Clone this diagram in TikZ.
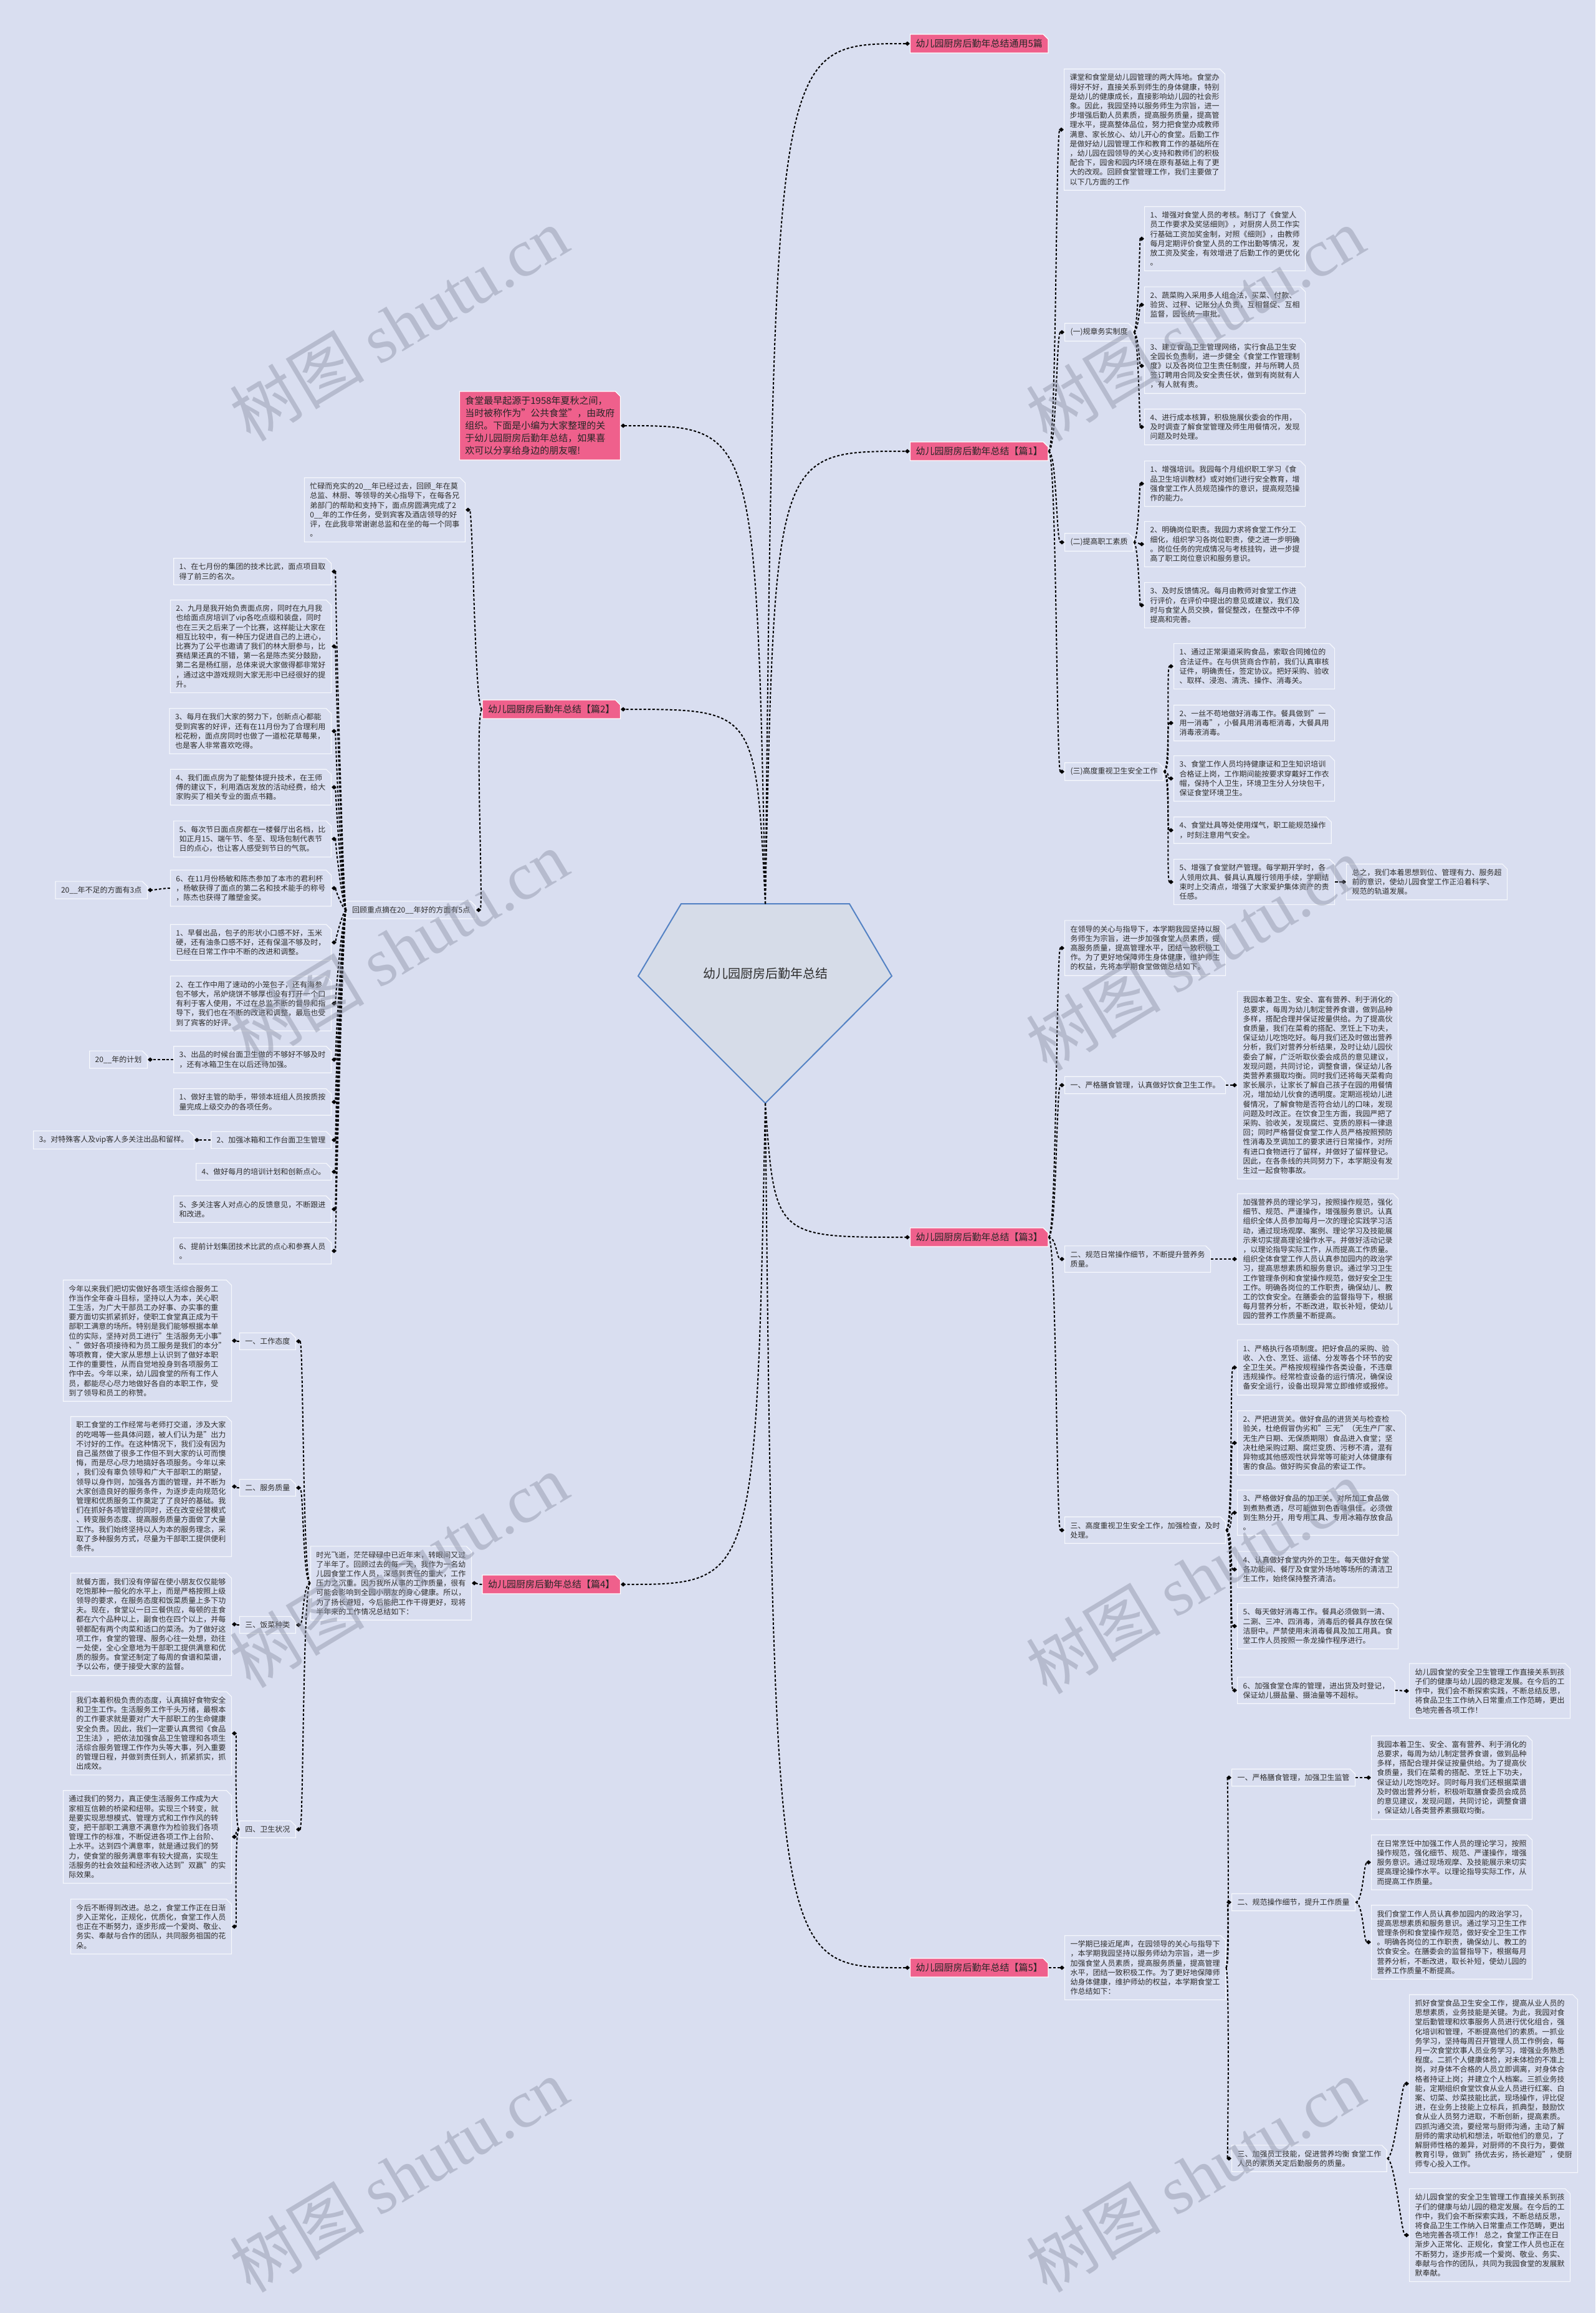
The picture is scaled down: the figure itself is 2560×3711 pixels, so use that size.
\documentclass[tikz,border=0pt]{standalone}
\usepackage{fontspec}
\setmainfont{Noto Sans CJK SC}
\newfontfamily\wmlat{Liberation Serif}
\usetikzlibrary{shapes.misc,arrows.meta}
\definecolor{bg}{RGB}{217,222,240}
\definecolor{boxline}{RGB}{246,248,253}
\definecolor{pinkc}{RGB}{239,96,140}
\definecolor{txt}{RGB}{45,45,45}
\definecolor{cfill}{RGB}{214,220,232}
\definecolor{cline}{RGB}{84,130,196}
\definecolor{wmc}{RGB}{140,146,165}
\tikzset{
 box/.style={chamfered rectangle, chamfered rectangle corners=north east, chamfered rectangle xsep=4pt, chamfered rectangle ysep=4pt, draw=boxline, line width=1.2pt, fill=bg, text=txt, font=\fontsize{12}{15.2}\selectfont, align=left, inner xsep=5pt, inner ysep=4pt},
 pbox/.style={box, fill=pinkc, draw=white, text=black!85, font=\fontsize{15}{20}\selectfont},
 link/.style={line width=2pt, dash pattern=on 4pt off 3pt, -{Diamond[length=8pt,width=7pt]}},
 wm/.style={rotate=31, text=wmc, opacity=0.45, font=\fontsize{108}{108}\selectfont},
}
\newcommand\lkR[3]{\draw[link] (#1.east) .. controls +(#3,0) and +(-#3,0) .. (#2.west);}
\newcommand\lkL[3]{\draw[link] (#1.west) .. controls +(-#3,0) and +(#3,0) .. (#2.east);}
\begin{document}
\begin{tikzpicture}[x=1pt,y=-1pt]
\fill[bg] (0,0) rectangle (2560,3711);
\useasboundingbox (0,0) rectangle (2560,3711);

% centre
\draw[fill=cfill, draw=cline, line width=2pt] (1093,1450) -- (1363,1450) -- (1431,1566) -- (1228,1770) -- (1024,1566) -- cycle;
\node[text=txt, font=\fontsize{20}{24}\selectfont] (c) at (1228,1562) {幼儿园厨房后勤年总结};
\coordinate (ctop) at (1228,1450);
\coordinate (cbot) at (1228,1770);

% branch labels
\node[pbox, anchor=west] (B0) at (1460,70) {幼儿园厨房后勤年总结通用5篇};
\node[pbox, anchor=west] (B1) at (1460,724) {幼儿园厨房后勤年总结【篇1】};
\node[pbox, anchor=east] (P) at (996,683) {食堂最早起源于1958年夏秋之间，\\当时被称作为"公共食堂"，由政府\\组织。下面是小编为大家整理的关\\于幼儿园厨房后勤年总结，如果喜\\欢可以分享给身边的朋友喔!};
\node[pbox, anchor=east] (B2) at (996,1138) {幼儿园厨房后勤年总结【篇2】};
\node[pbox, anchor=west] (B3) at (1460,1985) {幼儿园厨房后勤年总结【篇3】};
\node[pbox, anchor=east] (B4) at (996,2542) {幼儿园厨房后勤年总结【篇4】};
\node[pbox, anchor=west] (B5) at (1460,3157) {幼儿园厨房后勤年总结【篇5】};

% ---------- 篇1 ----------
\node[box, anchor=west] (a1) at (1707,208) {课堂和食堂是幼儿园管理的两大阵地。食堂办\\得好不好，直接关系到师生的身体健康，特别\\是幼儿的健康成长，直接影响幼儿园的社会形\\象。因此，我园坚持以服务师生为宗旨，进一\\步增强后勤人员素质，提高服务质量，提高管\\理水平，提高整体品位，努力把食堂办成教师\\满意、家长放心、幼儿开心的食堂。后勤工作\\是做好幼儿园管理工作和教育工作的基础所在\\，幼儿园在园领导的关心支持和教师们的积极\\配合下，园舍和园内环境在原有基础上有了更\\大的改观。回顾食堂管理工作，我们主要做了\\以下几方面的工作};
\node[box, anchor=west] (a2) at (1708,533) {(一)规章务实制度};
\node[box, anchor=west] (a3) at (1708,870) {(二)提高职工素质};
\node[box, anchor=west] (a4) at (1708,1238) {(三)高度重视卫生安全工作};

\node[box, anchor=west] (b11) at (1836,383) {1、增强对食堂人员的考核。制订了《食堂人\\员工作要求及奖惩细则》，对厨房人员工作实\\行基础工资加奖金制，对照《细则》，由教师\\每月定期评价食堂人员的工作出勤等情况，发\\放工资及奖金，有效增进了后勤工作的更优化\\。};
\node[box, anchor=west] (b12) at (1836,489) {2、蔬菜购入采用多人组合法，买菜、付款、\\验货、过秤、记账分人负责，互相督促、互相\\监督，园长统一审批。};
\node[box, anchor=west] (b13) at (1836,587) {3、建立食品卫生管理网络，实行食品卫生安\\全园长负责制，进一步健全《食堂工作管理制\\度》以及各岗位卫生责任制度，并与所聘人员\\签订聘用合同及安全责任状，做到有岗就有人\\，有人就有责。};
\node[box, anchor=west] (b14) at (1836,685) {4、进行成本核算，积极施展伙委会的作用，\\及时调查了解食堂管理及师生用餐情况，发现\\问题及时处理。};

\node[box, anchor=west] (b21) at (1836,776) {1、增强培训。我园每个月组织职工学习《食\\品卫生培训教材》或对她们进行安全教育，增\\强食堂工作人员规范操作的意识，提高规范操\\作的能力。};
\node[box, anchor=west] (b22) at (1836,873) {2、明确岗位职责。我园力求将食堂工作分工\\细化，组织学习各岗位职责，使之进一步明确\\。岗位任务的完成情况与考核挂钩，进一步提\\高了职工岗位意识和服务意识。};
\node[box, anchor=west] (b23) at (1836,971) {3、及时反馈情况。每月由教师对食堂工作进\\行评价，在评价中提出的意见或建议，我们及\\时与食堂人员交换，督促整改，在整改中不停\\提高和完善。};

\node[box, anchor=west] (b31) at (1883,1069) {1、通过正常渠道采购食品，索取合同摊位的\\合法证件。在与供货商合作前，我们认真审核\\证件，明确责任，签定协议。把好采购、验收\\、取样、浸泡、清洗、操作、消毒关。};
\node[box, anchor=west] (b32) at (1883,1160) {2、一丝不苟地做好消毒工作。餐具做到"一\\用一消毒"，小餐具用消毒柜消毒，大餐具用\\消毒液消毒。};
\node[box, anchor=west] (b33) at (1883,1249) {3、食堂工作人员均持健康证和卫生知识培训\\合格证上岗，工作期间能按要求穿戴好工作衣\\帽，保持个人卫生，环境卫生分人分块包干，\\保证食堂环境卫生。};
\node[box, anchor=west] (b34) at (1883,1332) {4、食堂灶具等处使用煤气，职工能规范操作\\，时刻注意用气安全。};
\node[box, anchor=west] (b35) at (1883,1415) {5、增强了食堂财产管理。每学期开学时，各\\人领用炊具、餐具认真履行领用手续，学期结\\束时上交清点，增强了大家爱护集体资产的责\\任感。};
\node[box, anchor=west] (z1) at (2160,1415) {总之，我们本着思想到位、管理有力、服务超\\前的意识，使幼儿园食堂工作正沿着科学、\\规范的轨道发展。};

% ---------- 篇2 ----------
\node[box, anchor=east] (i2) at (747,818) {忙碌而充实的20\_\_年已经过去，回顾\_年在莫\\总监、林厨、等领导的关心指导下，在每各兄\\弟部门的帮助和支持下，面点房圆满完成了2\\0\_\_年的工作任务，受到宾客及酒店领导的好\\评，在此我非常谢谢总监和在坐的每一个同事\\。};
\node[box, anchor=east] (rr) at (764,1460) {回顾重点摘在20\_\_年好的方面有5点};

\node[box, anchor=east] (r1) at (532,917) {1、在七月份的集团的技术比武，面点项目取\\得了前三的名次。};
\node[box, anchor=east] (r2) at (532,1037) {2、九月是我开始负责面点房，同时在九月我\\也给面点房培训了vip各吃点缀和装盘，同时\\也在三天之后来了一个比赛，这样能让大家在\\相互比较中，有一种压力促进自己的上进心，\\比赛为了公平也邀请了我们的林大厨参与，比\\赛结果还真的不错，第一名是陈杰奖分鼓励，\\第二名是杨红丽，总体来说大家做得都非常好\\，通过这中游戏规则大家无形中已经很好的提\\升。};
\node[box, anchor=east] (r3) at (532,1173) {3、每月在我们大家的努力下，创新点心都能\\受到宾客的好评，还有在11月份为了合理利用\\松花粉，面点房同时也做了一道松花草莓果，\\也是客人非常喜欢吃得。};
\node[box, anchor=east] (r4) at (532,1263) {4、我们面点房为了能整体提升技术，在王师\\傅的建议下，利用酒店发放的活动经费，给大\\家购买了相关专业的面点书籍。};
\node[box, anchor=east] (r5) at (532,1346) {5、每次节日面点房都在一楼餐厅出名档，比\\如正月15、端午节、冬至、现场包制代表节\\日的点心，也让客人感受到节日的气氛。};
\node[box, anchor=east] (r6) at (532,1425) {6、在11月份杨敏和陈杰参加了本市的君利杯\\，杨敏获得了面点的第二名和技术能手的称号\\，陈杰也获得了雕塑金奖。};
\node[box, anchor=east] (d1) at (237,1428) {20\_\_年不足的方面有3点};
\node[box, anchor=east] (r7) at (532,1512) {1、早餐出品，包子的形状小口感不好，玉米\\硬，还有油条口感不好，还有保温不够及时，\\已经在日常工作中不断的改进和调整。};
\node[box, anchor=east] (r8) at (532,1610) {2、在工作中用了速动的小笼包子，还有海参\\包不够大，吊炉烧饼不够厚也没有打开一个口\\有利于客人使用，不过在总监不断的督导和指\\导下，我们也在不断的改进和调整，最后也受\\到了宾客的好评。};
\node[box, anchor=east] (r9) at (532,1700) {3、出品的时候台面卫生做的不够好不够及时\\，还有冰箱卫生在以后还待加强。};
\node[box, anchor=east] (pl) at (237,1700) {20\_\_年的计划};
\node[box, anchor=east] (r10) at (532,1768) {1、做好主管的助手，带领本班组人员按质按\\量完成上级交办的各项任务。};
\node[box, anchor=east] (r11) at (532,1829) {2、加强冰箱和工作台面卫生管理};
\node[box, anchor=east] (xx) at (312,1829) {3。对特殊客人及vip客人多关注出品和留样。};
\node[box, anchor=east] (r12) at (532,1880) {4、做好每月的培训计划和创新点心。};
\node[box, anchor=east] (r13) at (532,1940) {5、多关注客人对点心的反馈意见，不断跟进\\和改进。};
\node[box, anchor=east] (r14) at (532,2007) {6、提前计划集团技术比武的点心和参赛人员\\。};

% ---------- 篇3 ----------
\node[box, anchor=west] (i3) at (1708,1521) {在领导的关心与指导下，本学期我园坚持以服\\务师生为宗旨，进一步加强食堂人员素质，提\\高服务质量，提高管理水平，团结一致积极工\\作。为了更好地保障师生身体健康，维护师生\\的权益，先将本学期食堂做做总结如下。};
\node[box, anchor=west] (m1) at (1708,1741) {一、严格膳食管理，认真做好饮食卫生工作。};
\node[box, anchor=west] (m1t) at (1985,1741) {我园本着卫生、安全、富有营养、利于消化的\\总要求，每周为幼儿制定营养食谱，做到品种\\多样，搭配合理并保证按量供给。为了提高伙\\食质量，我们在菜肴的搭配、烹饪上下功夫，\\保证幼儿吃饱吃好。每月我们还及时做出营养\\分析，我们对营养分析结果，及时让幼儿园伙\\委会了解，广泛听取伙委会成员的意见建议，\\发现问题，共同讨论，调整食谱，保证幼儿各\\类营养素摄取均衡。同时我们还将每天菜肴向\\家长展示，让家长了解自己孩子在园的用餐情\\况，增加幼儿伙食的透明度。定期巡视幼儿进\\餐情况，了解食物是否符合幼儿的口味，发现\\问题及时改正。在饮食卫生方面，我园严把了\\采购、验收关，发现腐烂、变质的原料一律退\\回；同时严格督促食堂工作人员严格按照预防\\性消毒及烹调加工的要求进行日常操作，对所\\有进口食物进行了留样，并做好了留样登记。\\因此，在各条线的共同努力下，本学期没有发\\生过一起食物事故。};
\node[box, anchor=west] (m2) at (1708,2020) {二、规范日常操作细节，不断提升营养务\\质量。};
\node[box, anchor=west] (m2t) at (1985,2020) {加强营养员的理论学习，按照操作规范，强化\\细节、规范、严谨操作，增强服务意识。认真\\组织全体人员参加每月一次的理论实践学习活\\动，通过现场观摩、案例、理论学习及技能展\\示来切实提高理论操作水平。并做好活动记录\\，以理论指导实际工作，从而提高工作质量。\\组织全体食堂工作人员认真参加园内的政治学\\习，提高思想素质和服务意识。通过学习卫生\\工作管理条例和食堂操作规范，做好安全卫生\\工作。明确各岗位的工作职责，确保幼儿、教\\工的饮食安全。在膳委会的监督指导下，根据\\每月营养分析，不断改进，取长补短，使幼儿\\园的营养工作质量不断提高。};
\node[box, anchor=west] (m3) at (1708,2455) {三、高度重视卫生安全工作，加强检查，及时\\处理。};
\node[box, anchor=west] (n1) at (1985,2194) {1、严格执行各项制度。把好食品的采购、验\\收、入仓、烹饪、运储、分发等各个环节的安\\全卫生关。严格按规程操作各类设备，不违章\\违规操作。经常检查设备的运行情况，确保设\\备安全运行，设备出现异常立即维修或报修。};
\node[box, anchor=west] (n2) at (1985,2315) {2、严把进货关。做好食品的进货关与检查检\\验关，杜绝假冒伪劣和"三无"（无生产厂家、\\无生产日期、无保质期限）食品进入食堂；坚\\决杜绝采购过期、腐烂变质、污秽不清，混有\\异物或其他感观性状异常等可能对人体健康有\\害的食品。做好购买食品的索证工作。};
\node[box, anchor=west] (n3) at (1985,2427) {3、严格做好食品的加工关。对所加工食品做\\到煮熟煮透，尽可能做到色香味俱佳。必须做\\到生熟分开，用专用工具、专用冰箱存放食品\\。};
\node[box, anchor=west] (n4) at (1985,2518) {4、认真做好食堂内外的卫生。每天做好食堂\\各功能间、餐厅及食堂外场地等场所的清洁卫\\生工作，始终保持整齐清洁。};
\node[box, anchor=west] (n5) at (1985,2609) {5、每天做好消毒工作。餐具必须做到一清、\\二涮、三冲、四消毒，消毒后的餐具存放在保\\洁厨中。严禁使用未消毒餐具及加工用具。食\\堂工作人员按照一条龙操作程序进行。};
\node[box, anchor=west] (n6) at (1985,2712) {6、加强食堂仓库的管理，进出货及时登记，\\保证幼儿摄盐量、摄油量等不超标。};
\node[box, anchor=west] (n7) at (2261,2713) {幼儿园食堂的安全卫生管理工作直接关系到孩\\子们的健康与幼儿园的稳定发展。在今后的工\\作中，我们会不断探索实践，不断总结反思，\\将食品卫生工作纳入日常重点工作范畴，更出\\色地完善各项工作！};

% ---------- 篇4 ----------
\node[box, anchor=east] (i4) at (757,2540) {时光飞逝，茫茫碌碌中已近年末，转眼间又过\\了半年了。回顾过去的每一天，我作为一名幼\\儿园食堂工作人员，深感到责任的重大，工作\\压力之沉重。因为我所从事的工作质量，很有\\可能会影响到全园小朋友的身心健康。所以，\\为了扬长避短，今后能把工作干得更好，现将\\半年来的工作情况总结如下：};
\node[box, anchor=east] (q1) at (475,2152) {一、工作态度};
\node[box, anchor=east] (q2) at (475,2387) {二、服务质量};
\node[box, anchor=east] (q3) at (475,2607) {三、饭菜种类};
\node[box, anchor=east] (q4) at (475,2935) {四、卫生状况};
\node[box, anchor=east] (t1) at (372,2151) {今年以来我们把切实做好各项生活综合服务工\\作当作全年奋斗目标，坚持以人为本，关心职\\工生活，为广大干部员工办好事、办实事的重\\要方面切实抓紧抓好，使职工食堂真正成为干\\部职工满意的场所。特别是我们能够根据本单\\位的实际，坚持对员工进行"生活服务无小事"\\、"做好各项接待和为员工服务是我们的本分"\\等项教育，使大家从思想上认识到了做好本职\\工作的重要性，从而自觉地投身到各项服务工\\作中去。今年以来，幼儿园食堂的所有工作人\\员，都能尽心尽力地做好各自的本职工作，受\\到了领导和员工的称赞。};
\node[box, anchor=east] (t2) at (372,2385) {职工食堂的工作经常与老师打交道，涉及大家\\的吃喝等一些具体问题，被人们认为是"出力\\不讨好的工作。在这种情况下，我们没有因为\\自己虽然做了很多工作但不到大家的认可而懊\\悔，而是尽心尽力地搞好各项服务。今年以来\\，我们没有辜负领导和广大干部职工的期望，\\领导以身作则，加强各方面的管理，并不断为\\大家创造良好的服务条件，为逐步走向规范化\\管理和优质服务工作奠定了了良好的基础。我\\们在抓好各项管理的同时，还在改变经营模式\\、转变服务态度、提高服务质量方面做了大量\\工作。我们始终坚持以人为本的服务理念，采\\取了多种服务方式，尽量为干部职工提供便利\\条件。};
\node[box, anchor=east] (t3) at (372,2606) {就餐方面，我们没有停留在使小朋友仅仅能够\\吃饱那种一般化的水平上，而是严格按照上级\\领导的要求，在服务态度和饭菜质量上多下功\\夫。现在，食堂以一日三餐供应，每顿的主食\\都在六个品种以上，副食也在四个以上，并每\\顿都配有两个肉菜和适口的菜汤。为了做好这\\项工作，食堂的管理、服务心往一处想，劲往\\一处使，全心全意地为干部职工提供满意和优\\质的服务。食堂还制定了每周的食谱和菜谱，\\予以公布，便于接受大家的监督。};
\node[box, anchor=east] (t4) at (372,2781) {我们本着积极负责的态度，认真搞好食物安全\\和卫生工作。生活服务工作千头万绪，最根本\\的工作要求就是要对广大干部职工的生命健康\\安全负责。因此，我们一定要认真贯彻《食品\\卫生法》，把依法加强食品卫生管理和各项生\\活综合服务管理工作作为头等大事，列入重要\\的管理日程，并做到责任到人，抓紧抓实，抓\\出成效。};
\node[box, anchor=east] (t5) at (372,2947) {通过我们的努力，真正使生活服务工作成为大\\家相互信赖的桥梁和纽带。实现三个转变，就\\是要实现思想模式、管理方式和工作作风的转\\变，把干部职工满意不满意作为检验我们各项\\管理工作的标准，不断促进各项工作上台阶、\\上水平。达到四个满意率，就是通过我们的努\\力，使食堂的服务满意率有较大提高，实现生\\活服务的社会效益和经济收入达到"双赢"的实\\际效果。};
\node[box, anchor=east] (t6) at (372,3091) {今后不断得到改进。总之，食堂工作正在日渐\\步入正常化，正规化，优质化，食堂工作人员\\也正在不断努力，逐步形成一个爱岗、敬业、\\务实、奉献与合作的团队，共同服务祖国的花\\朵。};

% ---------- 篇5 ----------
\node[box, anchor=west] (i5) at (1708,3157) {一学期已接近尾声，在园领导的关心与指导下\\，本学期我园坚持以服务师幼为宗旨，进一步\\加强食堂人员素质，提高服务质量，提高管理\\水平，团结一致积极工作。为了更好地保障师\\幼身体健康，维护师幼的权益，本学期食堂工\\作总结如下：};
\node[box, anchor=west] (s1) at (1976,2852) {一、严格膳食管理，加强卫生监管};
\node[box, anchor=west] (s1t) at (2200,2852) {我园本着卫生、安全、富有营养、利于消化的\\总要求，每周为幼儿制定营养食谱，做到品种\\多样，搭配合理并保证按量供给。为了提高伙\\食质量，我们在菜肴的搭配、烹饪上下功夫，\\保证幼儿吃饱吃好。同时每月我们还根据菜谱\\及时做出营养分析，积极听取膳食委员会成员\\的意见建议，发现问题，共同讨论，调整食谱\\，保证幼儿各类营养素摄取均衡。};
\node[box, anchor=west] (s2) at (1976,3052) {二、规范操作细节，提升工作质量};
\node[box, anchor=west] (s2a) at (2200,2988) {在日常烹饪中加强工作人员的理论学习，按照\\操作规范，强化细节、规范、严谨操作，增强\\服务意识。通过现场观摩、及技能展示来切实\\提高理论操作水平。以理论指导实际工作，从\\而提高工作质量。};
\node[box, anchor=west] (s2b) at (2200,3116) {我们食堂工作人员认真参加园内的政治学习，\\提高思想素质和服务意识。通过学习卫生工作\\管理条例和食堂操作规范，做好安全卫生工作\\。明确各岗位的工作职责，确保幼儿、教工的\\饮食安全。在膳委会的监督指导下，根据每月\\营养分析，不断改进，取长补短，使幼儿园的\\营养工作质量不断提高。};
\node[box, anchor=west] (s3) at (1976,3463) {三、加强员工技能，促进营养均衡 食堂工作\\人员的素质关定后勤服务的质量。};
\node[box, anchor=west] (s3a) at (2261,3343) {抓好食堂食品卫生安全工作，提高从业人员的\\思想素质，业务技能是关键。为此，我园对食\\堂后勤管理和炊事服务人员进行优化组合，强\\化培训和管理，不断提高他们的素质。一抓业\\务学习，坚持每周召开管理人员工作例会，每\\月一次食堂炊事人员业务学习，增强业务熟悉\\程度。二抓个人健康体检，对未体检的不准上\\岗，对身体不合格的人员立即调离，对身体合\\格者持证上岗；并建立个人档案。三抓业务技\\能，定期组织食堂饮食从业人员进行红案、白\\案、切菜、炒菜技能比武，现场操作，评比促\\进，在业务上技能上立标兵，抓典型，鼓励饮\\食从业人员努力进取，不断创新，提高素质。\\四抓沟通交流，要经常与厨师沟通，主动了解\\厨师的需求动机和想法，听取他们的意见，了\\解厨师性格的差异，对厨师的不良行为，要做\\教育引导，做到"扬优去劣，扬长避短"，使厨\\师专心投入工作。};
\node[box, anchor=west] (s3b) at (2261,3586) {幼儿园食堂的安全卫生管理工作直接关系到孩\\子们的健康与幼儿园的稳定发展。在今后的工\\作中，我们会不断探索实践，不断总结反思，\\将食品卫生工作纳入日常重点工作范畴，更出\\色地完善各项工作！ 总之，食堂工作正在日\\渐步入正常化、正规化，食堂工作人员也正在\\不断努力，逐步形成一个爱岗、敬业、务实、\\奉献与合作的团队，共同为我园食堂的发展默\\默奉献。};

% ---------- connectors ----------
\draw[link] (ctop) .. controls (1243,70) .. (B0.west);
\draw[link] (ctop) .. controls (1243,724) .. (B1.west);
\draw[link] (ctop) .. controls (1213,683) .. (P.east);
\draw[link] (ctop) .. controls (1213,1138) .. (B2.east);
\draw[link] (cbot) .. controls (1243,1985) .. (B3.west);
\draw[link] (cbot) .. controls (1213,2542) .. (B4.east);
\draw[link] (cbot) .. controls (1243,3157) .. (B5.west);

\foreach \t in {a1,a2,a3,a4} {\lkR{B1}{\t}{13}}
\foreach \t in {b11,b12,b13,b14} {\lkR{a2}{\t}{7}}
\foreach \t in {b21,b22,b23} {\lkR{a3}{\t}{7}}
\foreach \t in {b31,b32,b33,b34,b35} {\lkR{a4}{\t}{12}}
\lkR{b35}{z1}{12}

\foreach \t in {i2,rr} {\lkL{B2}{\t}{12}}
\foreach \t in {r1,r2,r3,r4,r5,r6,r7,r8,r9,r10,r11,r12,r13,r14} {\lkL{rr}{\t}{5}}
\lkL{r6}{d1}{10}
\lkL{r9}{pl}{10}
\lkL{r11}{xx}{10}

\foreach \t in {i3,m1,m2,m3} {\lkR{B3}{\t}{13}}
\lkR{m1}{m1t}{10}
\lkR{m2}{m2t}{10}
\foreach \t in {n1,n2,n3,n4,n5,n6} {\lkR{m3}{\t}{12}}
\lkR{n6}{n7}{12}

\lkL{B4}{i4}{8}
\foreach \t in {q1,q2,q3,q4} {\lkL{i4}{\t}{12}}
\lkL{q1}{t1}{10}
\lkL{q2}{t2}{10}
\lkL{q3}{t3}{10}
\foreach \t in {t4,t5,t6} {\lkL{q4}{\t}{8}}

\lkR{B5}{i5}{13}
\foreach \t in {s1,s2,s3} {\lkR{i5}{\t}{6}}
\lkR{s1}{s1t}{12}
\foreach \t in {s2a,s2b} {\lkR{s2}{\t}{12}}
\foreach \t in {s3a,s3b} {\lkR{s3}{\t}{12}}

% ---------- watermarks ----------
\foreach \n/\x/\y in {1/640/520, 2/1918/520, 3/640/1520, 4/1918/1530, 5/640/2520, 6/1918/2530, 7/640/3490, 8/1918/3490} {
 \node[wm] (wm\n) at (\x,\y) {树图 {\wmlat shutu.cn}};
}
\end{tikzpicture}
\end{document}
